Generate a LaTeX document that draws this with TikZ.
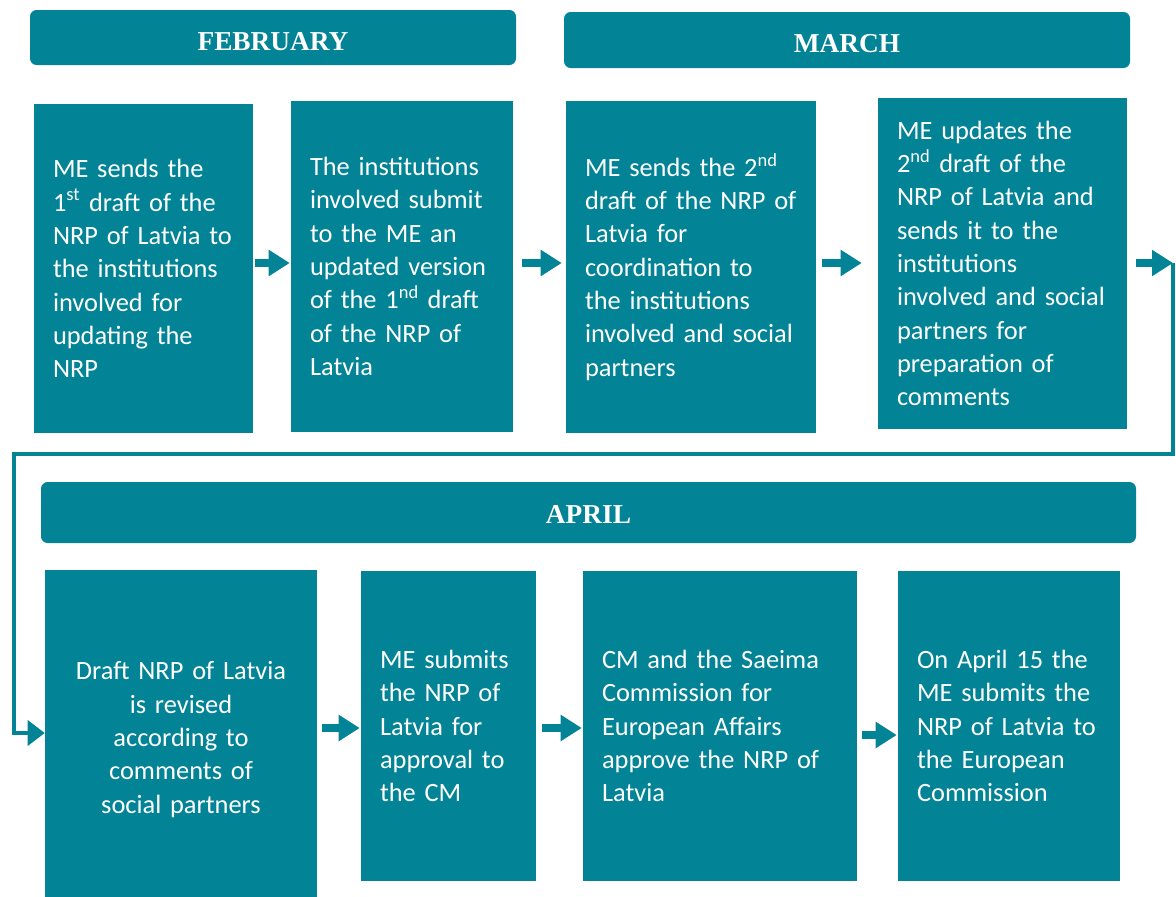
\documentclass[tikz,border=0pt]{standalone}
\usepackage{fontspec}
\setmainfont{Carlito}
\newfontfamily\headfont{Liberation Serif}
\usetikzlibrary{arrows.meta}
\definecolor{nrpteal}{RGB}{2,131,150}

\begin{document}
\begin{tikzpicture}[x=0.75pt, y=-0.75pt,
    month/.style = {fill=nrpteal, rounded corners=5pt, text=white, inner sep=0pt,
        text height=19pt, text depth=0pt,
        font=\headfont\fontsize{20.5}{24}\selectfont\bfseries},
    stepbox/.style = {fill=nrpteal, text=white, align=left, inner xsep=14.25pt, inner ysep=0pt,
        font=\fontsize{19.8}{25}\selectfont},
    flow/.style = {draw=nrpteal, line width=6pt, -{Triangle[length=15.75pt, width=18.75pt]}},
    link/.style = {draw=nrpteal, line width=2.6pt, -{Triangle[length=12.75pt, width=18.75pt]}}]
  \useasboundingbox (0,0) rectangle (1176,896);

  % months
  \node[month, minimum width=364.5pt, minimum height=41.25pt] (feb) at (273,37.5) {FEBRUARY};
  \node[month, minimum width=424.5pt, minimum height=42pt] (mar) at (847,40) {MARCH};
  \node[month, minimum width=821.25pt, minimum height=45.75pt, text height=16pt] (apr) at (588.5,512.5) {APRIL};

  % first row
  \node[stepbox, text width=135.75pt, minimum height=246.75pt] (feb1) at (143.5,268.5)
    {ME sends the\\ 1\textsuperscript{st} draft of the\\ NRP of Latvia to\\ the institutions\\ involved for\\ updating the\\ NRP};
  \node[stepbox, text width=138pt, minimum height=248.25pt] (feb2) at (402,266.5)
    {The institutions\\ involved submit\\ to the ME an\\ updated version\\ of the 1\textsuperscript{nd} draft\\ of the NRP of\\ Latvia};
  \node[stepbox, text width=159pt, minimum height=249pt] (mar1) at (691,267)
    {ME sends the 2\textsuperscript{nd}\\ draft of the NRP of\\ Latvia for\\ coordination to\\ the institutions\\ involved and social\\ partners};
  \node[stepbox, text width=158.25pt, minimum height=248.25pt] (mar2) at (1002.5,263.5)
    {ME updates the\\ 2\textsuperscript{nd} draft of the\\ NRP of Latvia and\\ sends it to the\\ institutions\\ involved and social\\ partners for\\ preparation of\\ comments};

  % second row, the first box runs off the bottom edge
  \node[stepbox, align=center, text width=175.5pt, minimum height=254.25pt] (apr1) at (181,739.5)
    {Draft NRP of Latvia\\ is revised\\ according to\\ comments of\\ social partners};
  \node[stepbox, text width=102.75pt, minimum height=232.5pt] (apr2) at (448.5,726)
    {ME submits\\ the NRP of\\ Latvia for\\ approval to\\ the CM};
  \node[stepbox, text width=177pt, minimum height=232.5pt] (apr3) at (720,726)
    {CM and the Saeima\\ Commission for\\ European Affairs\\ approve the NRP of\\ Latvia};
  \node[stepbox, text width=138pt, minimum height=232.5pt] (apr4) at (1009,726)
    {On April 15 the\\ ME submits the\\ NRP of Latvia to\\ the European\\ Commission};

  \coordinate (toprow) at (0,263);
  \coordinate (botrow) at (0,728);
  \coordinate (looprow) at (0,733);
  \coordinate (turnR) at (1173,263);
  \coordinate (turnL) at (14,454);

  \draw[flow, shorten <=1.5pt, shorten >=0.75pt] (feb1.east |- toprow) -- (feb2.west |- toprow);
  \draw[flow, shorten <=6.75pt, shorten >=3pt] (feb2.east |- toprow) -- (mar1.west |- toprow);
  \draw[flow, shorten <=4.5pt, shorten >=12pt] (mar1.east |- toprow) -- (mar2.west |- toprow);
  \draw[flow, shorten <=6.75pt] (mar2.east |- toprow) -- (turnR);
  \draw[link] (turnR) |- (turnL) |- (apr1.west |- looprow);

  \draw[flow, shorten <=3.75pt, shorten >=0.75pt] (apr1.east |- botrow) -- (apr2.west |- botrow);
  \draw[flow, shorten <=4.5pt, shorten >=0.75pt] (apr2.east |- botrow) -- (apr3.west |- botrow);
  \draw[flow, shorten <=3.75pt, shorten >=0.75pt] ([yshift=-6.75pt]apr3.east) -- ([yshift=-6.75pt]apr4.west);
\end{tikzpicture}
\end{document}
